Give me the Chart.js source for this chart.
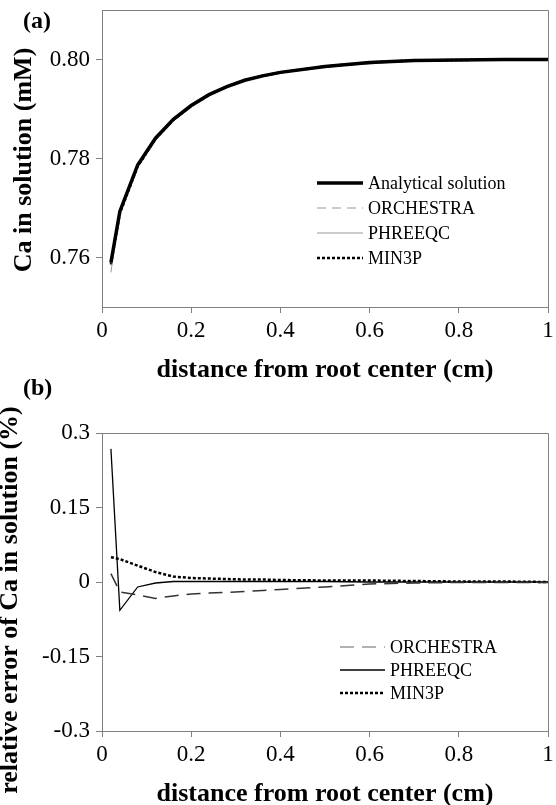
<!DOCTYPE html>
<html>
<head>
<meta charset="utf-8">
<script src="https://cdn.jsdelivr.net/npm/chart.js@4/dist/chart.umd.min.js"></script>
<style>
    body { margin: 0; background: #fff; width: 556px; height: 805px; overflow: hidden; position: relative; }
    .panel { position: absolute; left: 0; width: 556px; }
    #wrapA { top: 0; height: 390px; }
    #wrapB { top: 390px; height: 415px; }
    .tag { position: absolute; font: bold 24px "Liberation Serif", serif; color: #000; }
</style>
</head>
<body>
<div class="panel" id="wrapA"><canvas id="chartA" width="556" height="390"></canvas></div>
<div class="panel" id="wrapB"><canvas id="chartB" width="556" height="415"></canvas></div>
<div class="tag" style="left:23px;top:7px">(a)</div>
<div class="tag" style="left:23px;top:374px">(b)</div>
<script>
'use strict';

// distance from root center (cm)
var distance = [0.02, 0.04, 0.08, 0.12, 0.16, 0.2, 0.24, 0.28, 0.32, 0.36, 0.4, 0.5, 0.6, 0.7, 0.8, 0.9, 1.0];

// (a) Ca in solution (mM)
var caAnalytical = [0.7590, 0.7693, 0.7787, 0.7841, 0.7879, 0.7907, 0.7929, 0.7945, 0.7958, 0.7967, 0.7974, 0.7986, 0.7994, 0.7998, 0.7999, 0.8000, 0.8000];
var caOrchestra  = [0.7589, 0.7694, 0.7789, 0.7844, 0.7881, 0.7909, 0.7931, 0.7947, 0.7960, 0.7968, 0.7975, 0.7987, 0.7994, 0.7998, 0.7999, 0.8000, 0.8000];
var caPhreeqc    = [0.7570, 0.7697, 0.7788, 0.7841, 0.7879, 0.7907, 0.7929, 0.7945, 0.7958, 0.7967, 0.7974, 0.7986, 0.7991, 0.7998, 0.7999, 0.8000, 0.8000];
var caMin3p      = [0.7586, 0.7689, 0.7784, 0.7840, 0.7878, 0.7906, 0.7929, 0.7945, 0.7958, 0.7967, 0.7974, 0.7986, 0.7994, 0.7998, 0.7999, 0.8000, 0.8000];

// (b) relative error of Ca in solution (%)
var errOrchestra = [0.017, -0.020, -0.026, -0.033, -0.028, -0.024, -0.022, -0.021, -0.019, -0.017, -0.015, -0.010, -0.004, -0.002, -0.001, -0.001, -0.001];
var errPhreeqc   = [0.268, -0.057, -0.010, -0.002, 0.001, 0.001, 0.001, 0.001, 0.001, 0.001, 0.001, 0.001, 0.000, 0.000, 0.000, 0.000, 0.000];
var errMin3p     = [0.050, 0.046, 0.033, 0.020, 0.011, 0.008, 0.007, 0.006, 0.005, 0.005, 0.004, 0.003, 0.003, 0.002, 0.001, 0.001, 0.000];

// tick labels
var xTicks = [0, 0.2, 0.4, 0.6, 0.8, 1];
var xTickLabels = ['0', '0.2', '0.4', '0.6', '0.8', '1'];
var caTicks = [0.76, 0.78, 0.80];
var caTickLabels = ['0.76', '0.78', '0.80'];
var errTicks = [-0.3, -0.15, 0, 0.15, 0.3];
var errTickLabels = ['-0.3', '-0.15', '0', '0.15', '0.3'];

var SERIF = '"Liberation Serif", "Times New Roman", serif';
var AXIS_GREY = '#808080';

function points(ys) {
    return distance.map(function (x, i) { return { x: x, y: ys[i] }; });
}

// top and right edges of the plot box
var frame = {
    id: 'frame',
    beforeDatasetsDraw: function (chart) {
        var a = chart.chartArea, ctx = chart.ctx;
        ctx.save();
        ctx.strokeStyle = AXIS_GREY;
        ctx.lineWidth = 1;
        ctx.beginPath();
        ctx.moveTo(a.left, a.top + 0.5);
        ctx.lineTo(a.right + 0.5, a.top + 0.5);
        ctx.lineTo(a.right + 0.5, a.bottom);
        ctx.stroke();
        ctx.restore();
    }
};

// legend inside the plot, drawn from the dataset styles
var boxLegend = {
    id: 'boxLegend',
    afterDraw: function (chart, args, opts) {
        var ctx = chart.ctx;
        ctx.save();
        ctx.font = '18px ' + SERIF;
        ctx.textBaseline = 'middle';
        ctx.textAlign = 'left';
        chart.data.datasets.forEach(function (ds, i) {
            var y = opts.y + i * opts.dy;
            ctx.strokeStyle = ds.legendColor || ds.borderColor;
            ctx.lineWidth = ds.borderWidth;
            ctx.setLineDash(ds.borderDash || []);
            ctx.beginPath();
            ctx.moveTo(opts.x, y);
            ctx.lineTo(opts.x + opts.len, y);
            ctx.stroke();
            ctx.setLineDash([]);
            ctx.fillStyle = '#000';
            ctx.fillText(ds.label, opts.x + opts.len + 5, y + 1);
        });
        ctx.restore();
    }
};

// rotated y title at a fixed spot
var sideTitle = {
    id: 'sideTitle',
    afterDraw: function (chart, args, opts) {
        var ctx = chart.ctx;
        ctx.save();
        ctx.translate(opts.x, opts.y);
        ctx.rotate(-Math.PI / 2);
        ctx.font = 'bold 26px ' + SERIF;
        ctx.fillStyle = '#000';
        ctx.textAlign = 'center';
        ctx.textBaseline = 'middle';
        ctx.fillText(opts.text, 0, 0);
        ctx.restore();
    }
};

function xScale(titleLineHeight, titlePad, height) {
    return {
        type: 'linear', min: 0, max: 1,
        afterBuildTicks: function (s) { s.ticks = xTicks.map(function (v) { return { value: v }; }); },
        afterFit: function (s) { s.height = height; s.paddingLeft = 0; s.paddingRight = 0; },
        ticks: {
            color: '#000', font: { family: SERIF, size: 23 }, padding: 4,
            maxRotation: 0, autoSkip: false,
            callback: function (v, i) { return xTickLabels[i]; }
        },
        grid: { drawOnChartArea: false, color: AXIS_GREY, tickLength: 6 },
        border: { color: AXIS_GREY, width: 1 },
        title: {
            display: true, text: 'distance from root center (cm)', color: '#000',
            font: { family: SERIF, size: 26, weight: 'bold', lineHeight: titleLineHeight },
            padding: { top: 0, bottom: titlePad }
        }
    };
}

function yScale(min, max, ticks, labels) {
    return {
        type: 'linear', min: min, max: max,
        afterBuildTicks: function (s) { s.ticks = ticks.map(function (v) { return { value: v }; }); },
        afterFit: function (s) { s.width = 102; s.paddingTop = 0; s.paddingBottom = 0; },
        ticks: {
            color: '#000', font: { family: SERIF, size: 23 }, padding: 6,
            callback: function (v, i) { return labels[i]; }
        },
        grid: { drawOnChartArea: false, color: AXIS_GREY, tickLength: 6 },
        border: { color: AXIS_GREY, width: 1 }
    };
}

new Chart(document.getElementById('chartA'), {
    type: 'line',
    data: {
        datasets: [
            { label: 'Analytical solution', data: points(caAnalytical), borderColor: '#000', borderWidth: 3.5 },
            { label: 'ORCHESTRA', data: points(caOrchestra), borderColor: '#999', borderWidth: 1, borderDash: [9, 6] },
            { label: 'PHREEQC', data: points(caPhreeqc), borderColor: '#999', borderWidth: 1 },
            { label: 'MIN3P', data: points(caMin3p), borderColor: '#000', borderWidth: 2.5, borderDash: [3, 2] }
        ]
    },
    options: {
        responsive: false,
        animation: false,
        elements: { point: { radius: 0 }, line: { tension: 0, fill: false } },
        layout: { padding: { top: 10, right: 8, left: 0, bottom: 0 } },
        plugins: {
            legend: { display: false },
            tooltip: { enabled: false },
            boxLegend: { x: 317, len: 46, y: 183, dy: 25 },
            sideTitle: { text: 'Ca in solution (mM)', x: 24, y: 160 }
        },
        scales: {
            x: xScale(1.2, 4, 83),
            y: yScale(0.75, 0.81, caTicks, caTickLabels)
        }
    },
    plugins: [frame, boxLegend, sideTitle]
});

new Chart(document.getElementById('chartB'), {
    type: 'line',
    data: {
        datasets: [
            { label: 'ORCHESTRA', data: points(errOrchestra), borderColor: '#333', legendColor: '#999', borderWidth: 1.5, borderDash: [14, 8] },
            { label: 'PHREEQC', data: points(errPhreeqc), borderColor: '#000', borderWidth: 1.3 },
            { label: 'MIN3P', data: points(errMin3p), borderColor: '#000', borderWidth: 2.5, borderDash: [3, 2] }
        ]
    },
    options: {
        responsive: false,
        animation: false,
        elements: { point: { radius: 0 }, line: { tension: 0, fill: false } },
        layout: { padding: { top: 43, right: 8, left: 0, bottom: 0 } },
        plugins: {
            legend: { display: false },
            tooltip: { enabled: false },
            boxLegend: { x: 340, len: 45, y: 257, dy: 23 },
            sideTitle: { text: 'relative error of Ca in solution (%)', x: 10, y: 210 }
        },
        scales: {
            x: xScale(0.8, 0, 74),
            y: yScale(-0.3, 0.3, errTicks, errTickLabels)
        }
    },
    plugins: [frame, boxLegend, sideTitle]
});
</script>
</body>
</html>
